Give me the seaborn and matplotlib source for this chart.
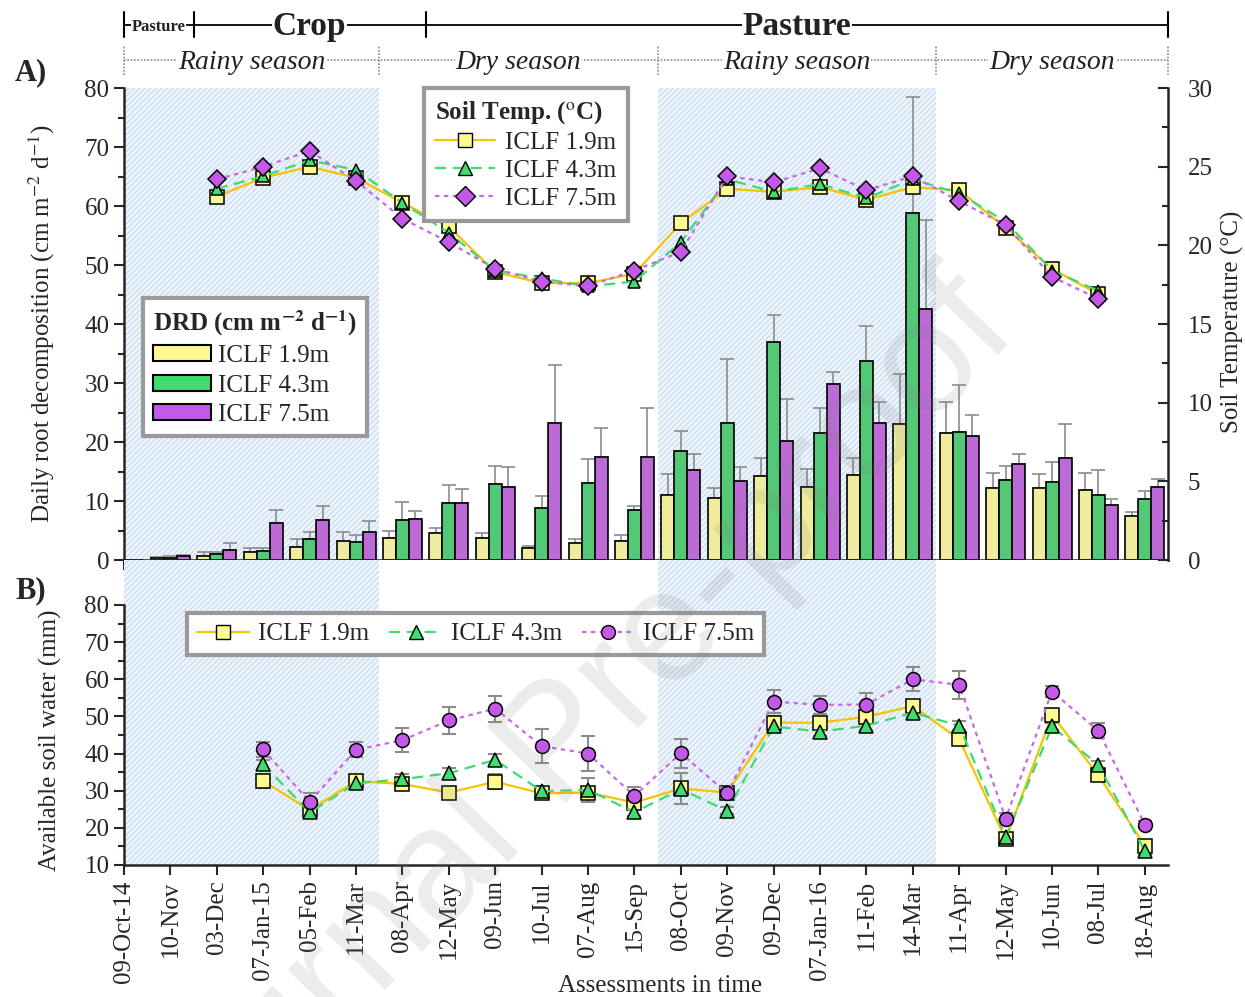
import matplotlib
matplotlib.use("Agg")
import matplotlib.pyplot as plt
import matplotlib.transforms as mtransforms
from matplotlib.lines import Line2D
from matplotlib.patches import Patch
from matplotlib.ticker import FixedLocator, MultipleLocator
import numpy as np
import pandas as pd
import seaborn as sns

DATES = ["09-Oct-14", "10-Nov", "03-Dec", "07-Jan-15", "05-Feb", "11-Mar", "08-Apr",
         "12-May", "09-Jun", "10-Jul", "07-Aug", "15-Sep", "08-Oct", "09-Nov", "09-Dec",
         "07-Jan-16", "11-Feb", "14-Mar", "11-Apr", "12-May", "10-Jun", "08-Jul", "18-Aug"]
SERIES = ["ICLF 1.9m", "ICLF 4.3m", "ICLF 7.5m"]

# daily root decomposition (bars) and upper error
drd_19 = [0, 0.3, 0.7, 1.4, 2.2, 3.3, 3.8, 4.5, 3.8, 2.0, 2.8, 3.2, 11.0, 10.5, 14.3, 12.4, 14.4, 23.1, 21.6, 12.2, 12.2, 11.8, 7.4]
drd_43 = [0, 0.4, 1.0, 1.5, 3.6, 3.1, 6.7, 9.6, 12.8, 8.8, 13.0, 8.5, 18.5, 23.3, 36.9, 21.5, 33.8, 58.8, 21.7, 13.6, 13.3, 11.1, 10.3]
drd_75 = [0, 0.7, 1.7, 6.2, 6.7, 4.8, 6.9, 9.6, 12.3, 23.3, 17.5, 17.5, 15.2, 13.4, 20.1, 29.9, 23.3, 42.6, 21.0, 16.3, 17.3, 9.3, 12.4]
err_19 = [0, 0.2, 0.6, 0.6, 1.4, 1.5, 1.2, 1.0, 0.7, 0.4, 0.7, 1.0, 3.5, 1.7, 3.0, 3.0, 2.9, 8.5, 5.2, 2.5, 2.4, 2.9, 0.8]
err_43 = [0, 0.2, 0.3, 0.6, 1.1, 1.1, 3.2, 3.1, 3.2, 2.1, 4.1, 0.6, 3.4, 10.7, 4.7, 4.3, 5.9, 19.7, 7.9, 2.4, 3.3, 4.2, 1.4]
err_75 = [0, 0.2, 1.2, 2.3, 2.5, 1.8, 1.4, 2.5, 3.4, 9.7, 4.8, 8.2, 2.7, 2.4, 7.2, 2.0, 3.4, 15.0, 3.5, 1.7, 5.7, 1.1, 1.4]

# soil temperature, 03-Dec .. 08-Jul
temp_19 = [23.1, 24.3, 25.0, 24.3, 22.7, 21.2, 18.3, 17.6, 17.6, 18.2, 21.4, 23.6, 23.4, 23.7, 22.9, 23.7, 23.5, 21.1, 18.5, 16.9]
temp_43 = [23.6, 24.4, 25.4, 24.8, 22.7, 20.8, 18.4, 17.9, 17.4, 17.7, 20.2, 24.2, 23.4, 23.9, 23.0, 24.2, 23.3, 21.5, 18.4, 17.1]
temp_75 = [24.2, 25.0, 26.0, 24.1, 21.7, 20.2, 18.5, 17.7, 17.4, 18.4, 19.6, 24.4, 24.0, 24.9, 23.5, 24.4, 22.8, 21.3, 18.0, 16.6]

# available soil water, 07-Jan-15 .. 18-Aug
asw_19 = [32.6, 24.8, 32.6, 31.8, 29.5, 32.4, 29.3, 29.5, 26.8, 30.6, 29.5, 48.3, 48.3, 49.9, 52.8, 43.8, 16.9, 50.4, 34.1, 15.2]
asw_43 = [37.1, 24.2, 32.0, 33.1, 34.7, 38.3, 29.9, 30.2, 24.2, 30.4, 24.6, 47.3, 45.9, 47.5, 51.0, 47.5, 17.6, 47.3, 36.9, 13.8]
asw_75 = [41.1, 27.0, 41.0, 43.6, 48.9, 52.1, 42.0, 40.0, 28.6, 40.1, 29.3, 54.0, 53.1, 53.2, 60.0, 58.5, 22.5, 56.7, 46.1, 20.9]
asw_err_19 = [1.8, 1.2, 1.2, 1.2, 1.5, 2.0, 1.5, 1.5, 1.2, 4.2, 1.5, 1.8, 1.5, 1.5, 1.2, 1.5, 1.0, 1.2, 1.5, 1.0]
asw_err_43 = [1.2, 1.0, 1.0, 1.5, 1.5, 1.5, 1.2, 3.2, 1.0, 1.5, 1.0, 1.2, 1.2, 1.2, 1.2, 1.2, 1.0, 1.0, 1.2, 1.0]
asw_err_75 = [2.0, 2.5, 2.0, 3.2, 3.6, 3.5, 4.5, 4.7, 2.3, 3.9, 1.5, 3.0, 2.5, 3.0, 3.2, 3.7, 1.5, 1.5, 2.0, 1.0]

RAINY = [(0, 5.5), (11.5, 17.5)]
SEASONS = [(0, 5.5, "Rainy season"), (5.5, 11.5, "Dry season"),
           (11.5, 17.5, "Rainy season"), (17.5, 22.5, "Dry season")]
LAND_USE = [(0, 1.5, "Pasture", 12), (1.5, 6.5, "Crop", 24), (6.5, 22.5, "Pasture", 24)]

FILL = ["#fdfa8f", "#3fdc6f", "#c458e8"]
LINE = ["#f5c400", "#3ddc6e", "#c86ae6"]
STYLES = ["-", (0, (5, 3)), (0, (2, 2))]
TEMP_MARKERS = ["s", "^", "D"]
ASW_MARKERS = ["s", "^", "o"]

sns.set_style("ticks")
plt.rcParams["font.family"] = ["Liberation Serif", "DejaVu Serif"]
plt.rcParams["mathtext.fontset"] = "stix"
plt.rcParams["hatch.linewidth"] = 0.6

fig = plt.figure(figsize=(12.45, 9.97), dpi=100)
ax_a = fig.add_axes([0.0996, 0.4383, 0.8386, 0.4734])
ax_b = fig.add_axes([0.0996, 0.1324, 0.8386, 0.3059])
pos = np.arange(len(DATES))

for ax in (ax_a, ax_b):
    for x0, x1 in RAINY:
        ax.axvspan(x0, x1, facecolor="#edf4fb", edgecolor="#b9d2ec", hatch="//////",
                   linewidth=0, zorder=0)

# ---- panel A bars
drd = pd.DataFrame({
    "pos": np.tile(pos, 3),
    "value": drd_19 + drd_43 + drd_75,
    "series": np.repeat(SERIES, len(pos)),
})
sns.barplot(data=drd, x="pos", y="value", hue="series", hue_order=SERIES,
            palette=dict(zip(SERIES, FILL)), width=0.84, edgecolor="black",
            linewidth=1.2, errorbar=None, legend=False, ax=ax_a, zorder=2)
for cont, err in zip(ax_a.containers, (err_19, err_43, err_75)):
    xs = [p.get_x() + p.get_width() / 2 for p in cont]
    hs = [p.get_height() for p in cont]
    ax_a.errorbar(xs, hs, yerr=[np.zeros(len(err)), err], fmt="none", ecolor="#8c8c8c",
                  elinewidth=1.2, capsize=5, capthick=1.2, zorder=1.5)

ax_a.set_xlim(0, 22.5)
ax_a.set_ylim(0, 80)
ax_a.set_xlabel("")
ax_a.set_ylabel("Daily root decomposition (cm m$^{-2}$ d$^{-1}$)", fontsize=18)
ax_a.yaxis.set_label_coords(-0.064, 0.5)
ax_a.set_xticks(pos)
ax_a.tick_params(axis="x", labelbottom=False, direction="out", length=7, width=1.5)
ax_a.yaxis.set_major_locator(MultipleLocator(10))
ax_a.yaxis.set_minor_locator(MultipleLocator(5))
ax_a.tick_params(axis="y", which="major", direction="out", length=7, width=1.5, labelsize=18)
ax_a.tick_params(axis="y", which="minor", direction="out", length=4, width=1.5)
for s in ("top", "right"):
    ax_a.spines[s].set_visible(False)
for s in ("left", "bottom"):
    ax_a.spines[s].set_linewidth(1.8)

# ---- panel A temperature (right axis)
ax_t = ax_a.twinx()
tpos = pos[2:22]
for vals, lc, fc, ls, mk in zip((temp_19, temp_43, temp_75), LINE, FILL, STYLES, TEMP_MARKERS):
    sns.lineplot(x=tpos, y=vals, ax=ax_t, color=lc, linestyle=ls, linewidth=1.6,
                 marker=mk, markersize=10 if mk == "s" else 9, markerfacecolor=fc,
                 markeredgecolor="black", markeredgewidth=1.1, errorbar=None)
ax_t.set_ylim(0, 30)
ax_t.set_xlim(0, 22.5)
ax_t.yaxis.set_major_locator(MultipleLocator(5))
ax_t.yaxis.set_minor_locator(MultipleLocator(2.5))
ax_t.tick_params(axis="y", which="major", direction="in", length=7, width=1.5, labelsize=18, pad=14)
ax_t.tick_params(axis="y", which="minor", direction="in", length=4, width=1.5)
ax_t.set_ylabel("Soil Temperature (°C)", fontsize=18)
ax_t.yaxis.set_label_coords(1.051, 0.505)
for s in ("top", "left", "bottom"):
    ax_t.spines[s].set_visible(False)
ax_t.spines["right"].set_linewidth(1.8)

temp_handles = [Line2D([], [], color=lc, linestyle=ls, linewidth=1.6, marker=mk, markersize=10,
                       markerfacecolor=fc, markeredgecolor="black")
                for lc, fc, ls, mk in zip(LINE, FILL, STYLES, TEMP_MARKERS)]
leg_t = ax_t.legend(temp_handles, SERIES, title="Soil Temp. ($^{\\mathrm{o}}$C)",
                    loc="upper left", bbox_to_anchor=(0.3405, 0.9117),
                    bbox_transform=fig.transFigure, fontsize=18, alignment="left",
                    title_fontproperties={"weight": "bold", "size": 18},
                    fancybox=False, edgecolor="#9a9a9a", framealpha=1, handlelength=2.4,
                    borderpad=0.45, labelspacing=0.22, handletextpad=0.4, borderaxespad=0)
leg_t.get_frame().set_linewidth(3)

bar_handles = [Patch(facecolor=fc, edgecolor="black", linewidth=1.5) for fc in FILL]
leg_a = ax_a.legend(bar_handles, SERIES, title="DRD (cm m$^{\\mathbf{-2}}$ d$^{\\mathbf{-1}}$)",
                    loc="upper left", bbox_to_anchor=(0.1149, 0.7011),
                    bbox_transform=fig.transFigure, fontsize=18, alignment="left",
                    title_fontproperties={"weight": "bold", "size": 18},
                    fancybox=False, edgecolor="#9a9a9a", framealpha=1, handlelength=2.3,
                    handleheight=0.6, borderpad=0.4, labelspacing=0.3, handletextpad=0.3,
                    borderaxespad=0)
leg_a.get_frame().set_linewidth(3)

# ---- panel B soil water
wpos = pos[3:]
for vals, err, lc, fc, ls, mk in zip((asw_19, asw_43, asw_75), (asw_err_19, asw_err_43, asw_err_75),
                                     LINE, FILL, STYLES, ASW_MARKERS):
    ax_b.errorbar(wpos, vals, yerr=err, fmt="none", ecolor="#8c8c8c", elinewidth=1.5,
                  capsize=5, capthick=1.5, zorder=2)
    sns.lineplot(x=wpos, y=vals, ax=ax_b, color=lc, linestyle=ls, linewidth=1.6,
                 marker=mk, markersize=10, markerfacecolor=fc,
                 markeredgecolor="black", markeredgewidth=1.1, errorbar=None, zorder=3)

ax_b.set_xlim(0, 22.5)
ax_b.set_ylim(10, 92.1)
ax_b.set_yticks(np.arange(10, 81, 10))
ax_b.yaxis.set_minor_locator(FixedLocator(np.arange(15, 80, 10)))
ax_b.spines["left"].set_bounds(10, 80)
ax_b.set_xticks(pos)
ax_b.set_xticklabels(DATES, rotation=90, fontsize=18)
ax_b.tick_params(axis="x", direction="out", length=7, width=1.5, pad=4)
ax_b.tick_params(axis="y", which="major", direction="out", length=7, width=1.5, labelsize=18)
ax_b.tick_params(axis="y", which="minor", direction="out", length=4, width=1.5)
ax_b.set_ylabel("Available soil water (mm)", fontsize=18)
ax_b.yaxis.set_label_coords(-0.059, 0.41)
ax_b.set_xlabel("")
for s in ("top", "right"):
    ax_b.spines[s].set_visible(False)
for s in ("left", "bottom"):
    ax_b.spines[s].set_linewidth(1.8)

asw_handles = [Line2D([], [], color=lc, linestyle=ls, linewidth=1.6, marker=mk, markersize=10,
                      markerfacecolor=fc, markeredgecolor="black")
               for lc, fc, ls, mk in zip(LINE, FILL, STYLES, ASW_MARKERS)]
leg_b = ax_b.legend(asw_handles, SERIES, ncol=3, loc="upper left",
                    bbox_to_anchor=(0.1502, 0.3852), bbox_transform=fig.transFigure,
                    fontsize=18, fancybox=False, edgecolor="#9a9a9a", framealpha=1,
                    handlelength=2.1, columnspacing=0.8, handletextpad=0.35, borderpad=0.4,
                    borderaxespad=0)
leg_b.get_frame().set_linewidth(3)

# ---- header: land use and seasons
trans = mtransforms.blended_transform_factory(ax_a.transData, fig.transFigure)
fig.add_artist(Line2D([0, 22.5], [0.975, 0.975], color="black", linewidth=1.3, transform=trans))
for xb in (0, 1.5, 6.5, 22.5):
    fig.add_artist(Line2D([xb, xb], [0.963, 0.988], color="black", linewidth=1.5, transform=trans))
for x0, x1, name, size in LAND_USE:
    fig.text((x0 + x1) / 2, 0.973, name, transform=trans, ha="center", va="center",
             fontsize=size, fontweight="bold", color="#222222",
             bbox=dict(facecolor="white", edgecolor="none", pad=0.5))

fig.add_artist(Line2D([0, 22.5], [0.94, 0.94], color="#8a8a8a", linewidth=1.2,
                      linestyle=(0, (1, 1)), transform=trans))
for xb in (0, 5.5, 11.5, 17.5, 22.5):
    fig.add_artist(Line2D([xb, xb], [0.925, 0.955], color="#8a8a8a", linewidth=1.2,
                          linestyle=(0, (1, 1)), transform=trans))
for x0, x1, name in SEASONS:
    fig.text((x0 + x1) / 2, 0.937, name, transform=trans, ha="center", va="center",
             fontsize=20, fontstyle="italic", color="#222222",
             bbox=dict(facecolor="white", edgecolor="none", pad=0.5))

fig.text(0.012, 0.927, "A)", fontsize=22, fontweight="bold", ha="left", va="center")
fig.text(0.012, 0.408, "B)", fontsize=22, fontweight="bold", ha="left", va="center")
fig.text(0.530, 0.011, "Assessments in time", fontsize=18, ha="center", va="center")

fig.text(0.4506, 0.2497, "Journal Pre-proof", rotation=46, fontsize=115, color="0.5",
         alpha=0.15, ha="center", va="center", family="Liberation Sans", zorder=10)

fig.savefig("out.png", dpi=100, facecolor="white")
plt.close(fig)
